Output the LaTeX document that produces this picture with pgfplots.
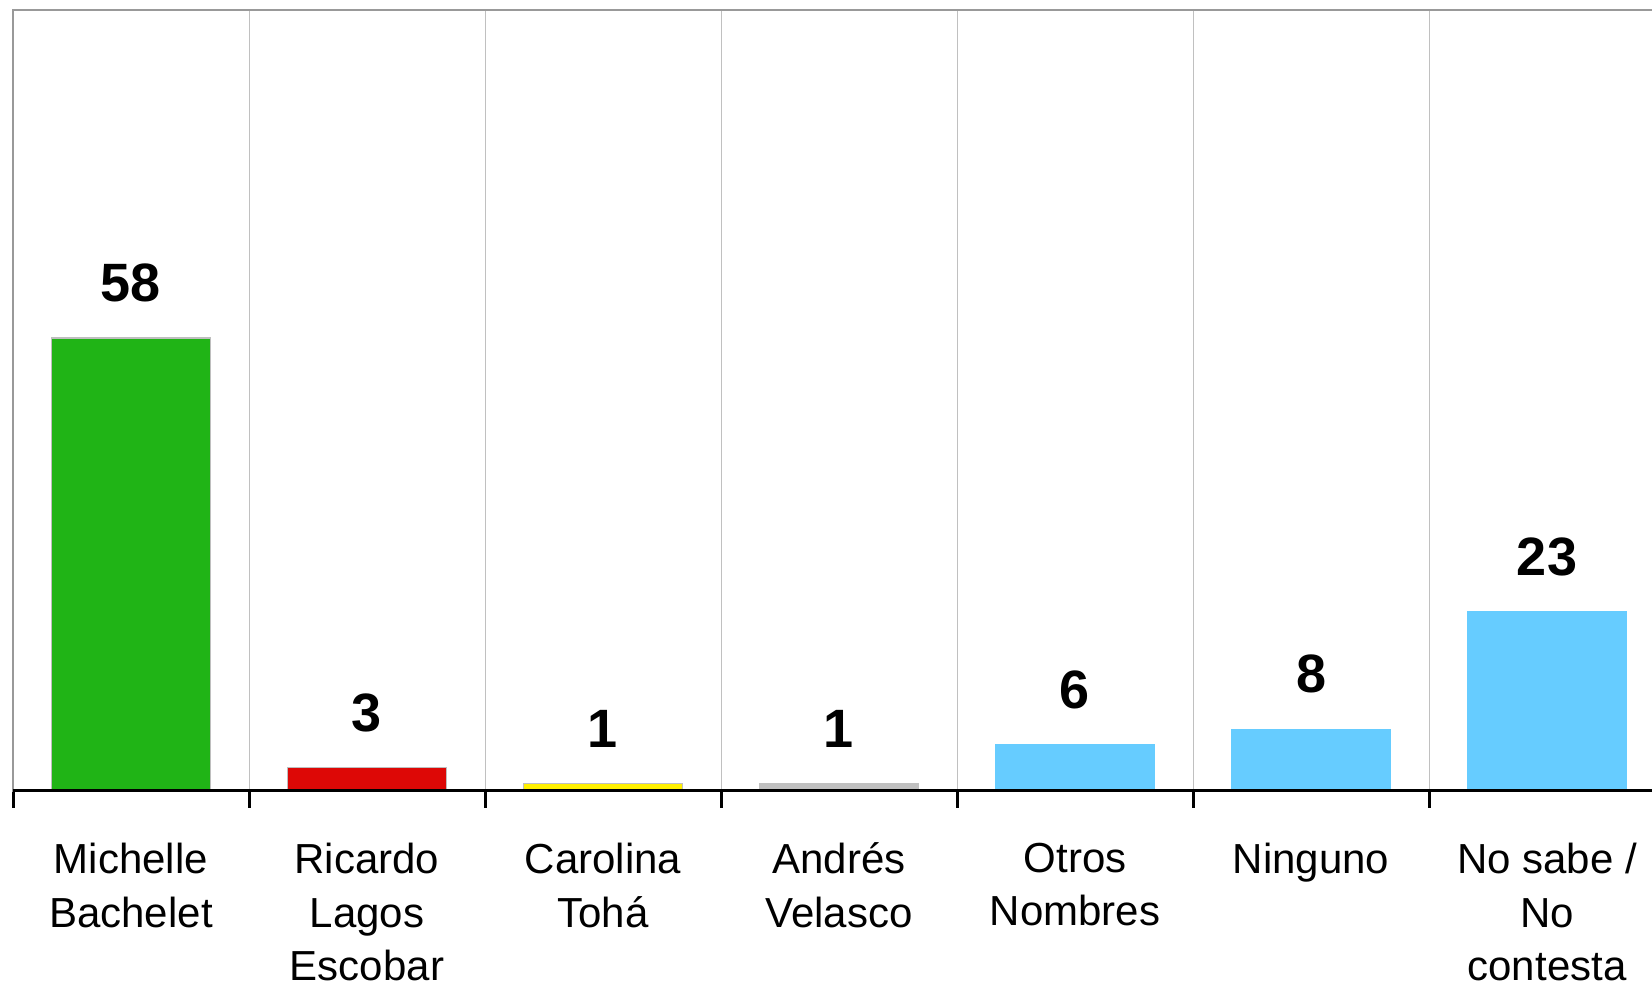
\documentclass[border=0pt]{standalone}
\usepackage{pgfplots}
\pgfplotsset{compat=1.18}
\usepackage{fontspec}
\setmainfont{Liberation Sans}
\definecolor{cgreen}{RGB}{32,180,22}
\definecolor{cred}{RGB}{221,8,6}
\definecolor{cyellow}{RGB}{255,240,0}
\definecolor{cgray}{RGB}{192,192,192}
\definecolor{cblue}{RGB}{102,204,255}
\definecolor{cedge}{RGB}{190,190,190}
\begin{document}
\begin{tikzpicture}
\useasboundingbox (-6.5pt,-98.5pt) rectangle (819.5pt,395.5pt);
\begin{axis}[
  at={(0,0)}, anchor=south west,
  scale only axis, width=826pt, height=390.5pt,
  xmin=-0.5, xmax=6.5, ymin=0, ymax=100,
  ybar, bar width=0.675, bar shift=0pt,
  ytick=\empty,
  xtick={0,1,2,3,4,5,6},
  xticklabels={{Michelle\\Bachelet},{Ricardo\\Lagos\\Escobar},{Carolina\\Tohá},{Andrés\\Velasco},{Otros\\Nombres},{Ninguno},{No sabe /\\No\\contesta}},
  major tick length=0pt,
  minor xtick={-0.5,0.5,...,6.5},
  minor tick length=8.5pt,
  tick align=outside,
  xtick pos=bottom,
  minor tick style={black, line width=1.5pt},
  xminorgrids,
  minor grid style={draw=cgray, line width=0.5pt},
  axis line style={draw=gray!80, line width=0.6pt},
  xticklabel style={font=\fontsize{21}{26.8}\selectfont, align=center, anchor=north, inner sep=0pt, yshift=-25.8pt},
  /pgf/number format/assume math mode=true,
  nodes near coords,
  nodes near coords style={font=\fontsize{27}{32}\selectfont\bfseries, anchor=south, inner sep=0pt, yshift=17.5pt, black},
  clip=false,
]
\addplot[fill=cgreen, draw=cedge, line width=0.6pt] coordinates {(0,58)};
\addplot[fill=cred, draw=cedge, line width=0.6pt] coordinates {(1,3)};
\addplot[fill=cyellow, draw=cedge, line width=0.6pt] coordinates {(2,1)};
\addplot[fill=cgray, draw=none] coordinates {(3,1)};
\addplot[fill=cblue, draw=none] coordinates {(4,6)};
\addplot[fill=cblue, draw=none] coordinates {(5,8)};
\addplot[fill=cblue, draw=none] coordinates {(6,23)};
\draw[black, line width=1.5pt] (rel axis cs:0,0) -- (rel axis cs:1,0);
\end{axis}
\end{tikzpicture}
\end{document}
